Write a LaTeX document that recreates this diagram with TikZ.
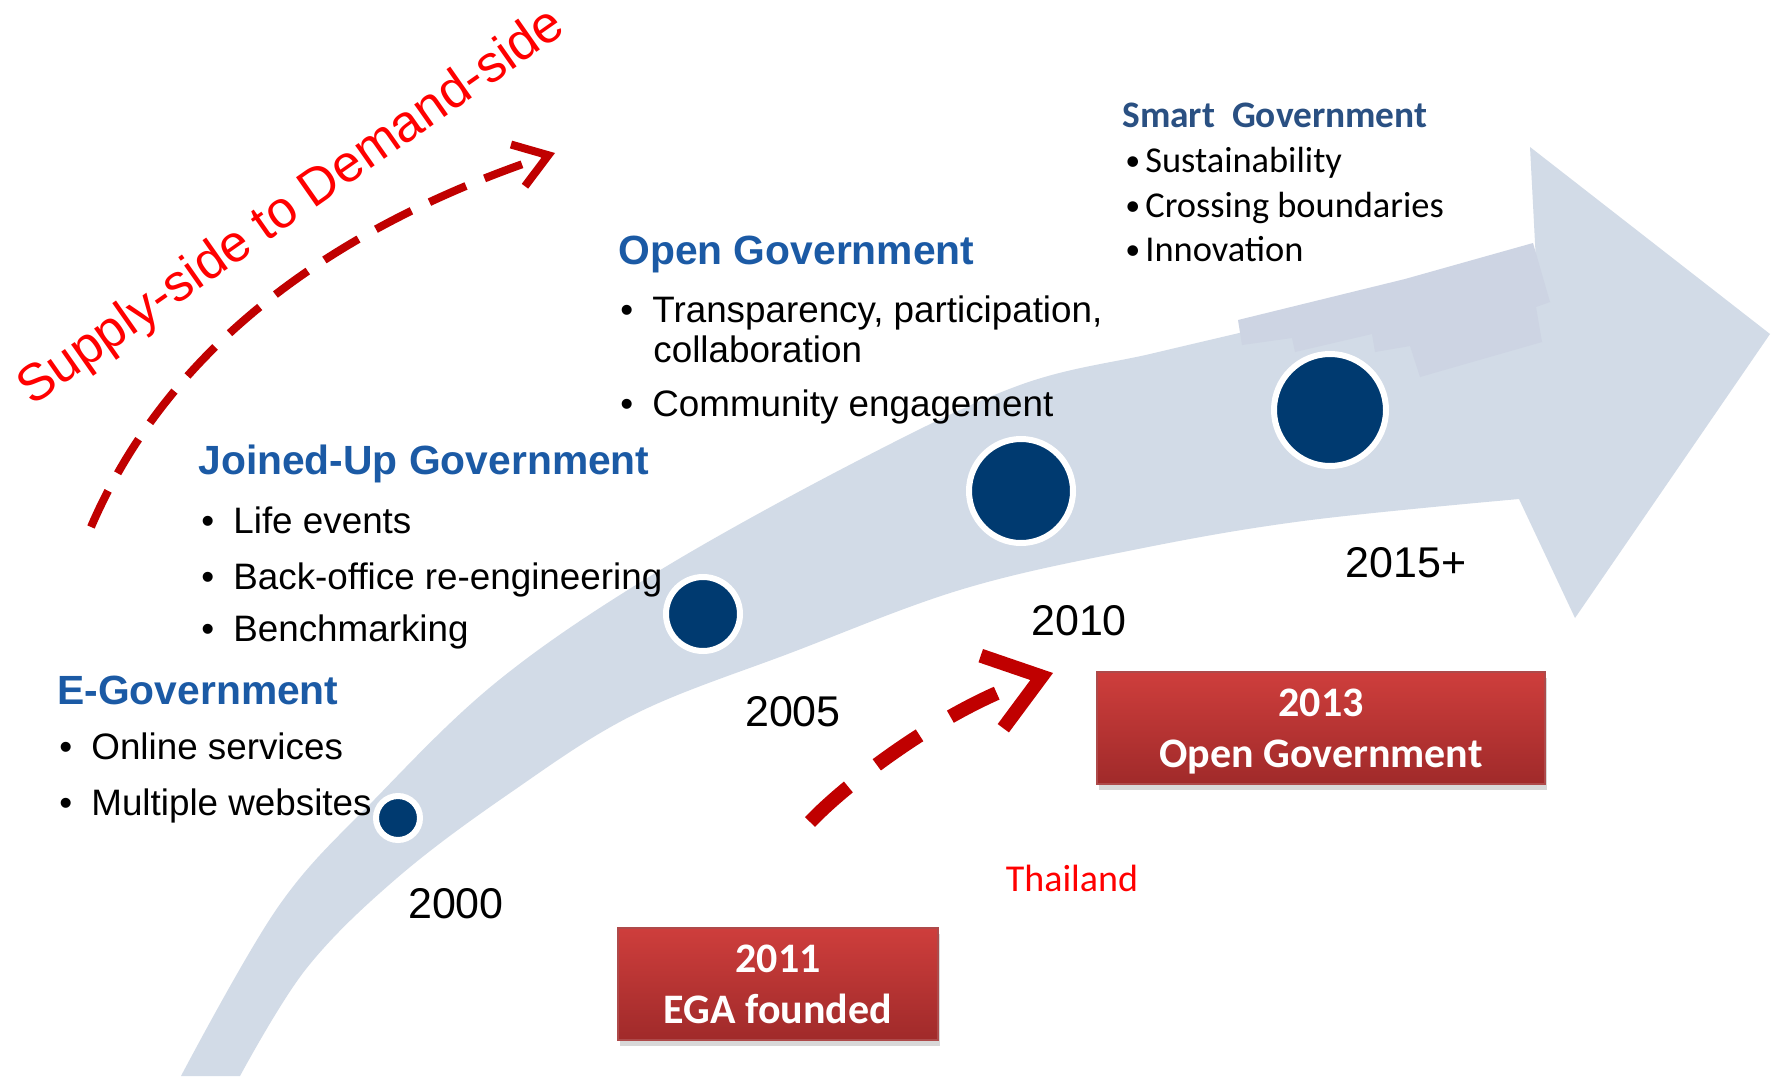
\documentclass[tikz,border=0pt]{standalone}
\usepackage{fontspec}
\setmainfont{Liberation Sans}
\newfontfamily\calibri{Carlito}
\usetikzlibrary{arrows.meta,shadows}

\definecolor{bandblue}{HTML}{D2DBE7}
\definecolor{bandpatch}{HTML}{CDD4E3}
\definecolor{headblue}{HTML}{1B5AA5}
\definecolor{smartblue}{HTML}{2A5082}
\definecolor{dotblue}{HTML}{003A70}
\definecolor{darkred}{HTML}{C00000}
\definecolor{boxtop}{HTML}{CE3E3C}
\definecolor{boxbot}{HTML}{A02A2A}

\newcommand{\bul}{\makebox[16pt][l]{\textbullet}}
\newcommand{\sbul}{\makebox[10pt][l]{\fontsize{15}{15}\selectfont\raisebox{0.8pt}{\textbullet}}}

\begin{document}
\begin{tikzpicture}[x=0.5pt,y=-0.5pt]
                \tikzstyle{every node}=[inner sep=0pt]
                \tikzstyle{head}=[anchor=base west,text=headblue,font=\bfseries\fontsize{20.4}{24}\selectfont]
                \tikzstyle{item}=[anchor=base west,font=\fontsize{18.4}{22}\selectfont]
                \tikzstyle{smarthead}=[anchor=base west,text=smartblue,font=\calibri\bfseries\fontsize{18.7}{22}\selectfont]
                \tikzstyle{smartitem}=[anchor=base west,font=\calibri\fontsize{18.2}{22}\selectfont]
                \tikzstyle{year}=[font=\fontsize{21.5}{26}\selectfont]
                \tikzstyle{dot}=[circle,fill=dotblue,draw=white,line width=3pt]
                \tikzstyle{redbox}=[top color=boxtop,bottom color=boxbot,draw=boxbot!85!white,line width=0.6pt,
                    minimum height=56pt,align=center,text depth=0pt,text=white,font=\calibri\bfseries\fontsize{21}{25.5}\selectfont,
                    drop shadow={shadow xshift=1pt,shadow yshift=-3pt,opacity=0.3}]
                \tikzstyle{redarrow}=[darkred,line cap=butt]
                \fill[white] (0,0) rectangle (1777,1076);
                \useasboundingbox (0,0) rectangle (1777,1076);
                % big curved arrow
                \fill[bandblue] plot[smooth,tension=0.6] coordinates {(181,1076) (278,907) (374,800) (499,680) (657,572) (861,459) (1020,385) (1150,354) (1235,334)}
                    -- (1536,262) -- (1530,147) -- (1770,334) -- (1575,618) -- (1519,499)
                    -- plot[smooth,tension=0.6] coordinates {(1519,499) (1303,521) (1133,550) (963,589) (793,652) (635,714) (510,793) (397,878) (306,969) (240,1076)}
                    -- cycle;
                \fill[bandpatch] (1238,320) -- (1405,279) -- (1533,243) -- (1550,302) -- (1536,307) -- (1542,342) -- (1420,377)
                    -- (1410,346) -- (1375,352) -- (1372,334) -- (1295,352) -- (1292,338) -- (1242,345) -- cycle;
                % milestones
                \node[dot,minimum size=22pt] (dot2000) at (398,818) {};
                \node[dot,minimum size=37pt] (dot2005) at (703,614) {};
                \node[dot,minimum size=52pt] (dot2010) at (1021,491) {};
                \node[dot,minimum size=56pt] (dot2015) at (1330,410) {};
                \node[year] (y2000) at (456,904) {2000};
                \node[year] (y2005) at (793,712) {2005};
                \node[year] (y2010) at (1079,621) {2010};
                \node[year] (y2015) at (1406,563) {2015+};
                % stages
                \node[head] (egov) at (57,704) {E-Government};
                \node[item] (egov1) at (59,759) {\bul Online services};
                \node[item] (egov2) at (59,815) {\bul Multiple websites};
                \node[head] (joined) at (198,474) {Joined-Up Government};
                \node[item] (joined1) at (201,533) {\bul Life events};
                \node[item] (joined2) at (201,589) {\bul Back-office re-engineering};
                \node[item] (joined3) at (201,641) {\bul Benchmarking};
                \node[head] (open) at (618,264) {Open Government};
                \node[item] (open1) at (620,322) {\bul Transparency, participation,};
                \node[item] (open2) at (653,362) {collaboration};
                \node[item] (open3) at (620,416) {\bul Community engagement};
                \node[smarthead] (smart) at (1122,127) {Smart\ \ Government};
                \node[smartitem] (smart1) at (1125,172) {\sbul Sustainability};
                \node[smartitem] (smart2) at (1125,217) {\sbul Crossing boundaries};
                \node[smartitem] (smart3) at (1125,261) {\sbul Innovation};
                % supply to demand
                \node[rotate=35,text=red,font=\fontsize{26}{30}\selectfont] (supply) at (292,208) {Supply-side to Demand-side};
                \coordinate (arcstart) at (91,527);
                \coordinate (arcend) at (555,153);
                \draw[redarrow,line width=4pt,dash pattern=on 20pt off 10pt,-{Straight Barb[length=16pt,width=22pt]}]
                    (arcstart) .. controls (164,357) and (319,232) .. (arcend);
                % Thailand
                \node[redbox,minimum width=160pt] (box2011) at (778,984) {2011\\EGA founded};
                \node[redbox,minimum width=224pt] (box2013) at (1321,728) {2013\\Open Government};
                \node[text=red,font=\calibri\fontsize{19}{23}\selectfont] (thai) at (1072,878) {Thailand};
                \coordinate (egastart) at (810,822);
                \coordinate (egaend) at (1053,673);
                \draw[redarrow,line width=7pt,dash pattern=on 26pt off 18pt,-{Straight Barb[length=26pt,width=38pt]}]
                    (egastart) .. controls (850,780) and (950,705) .. (egaend);
            \end{tikzpicture}
\end{document}
